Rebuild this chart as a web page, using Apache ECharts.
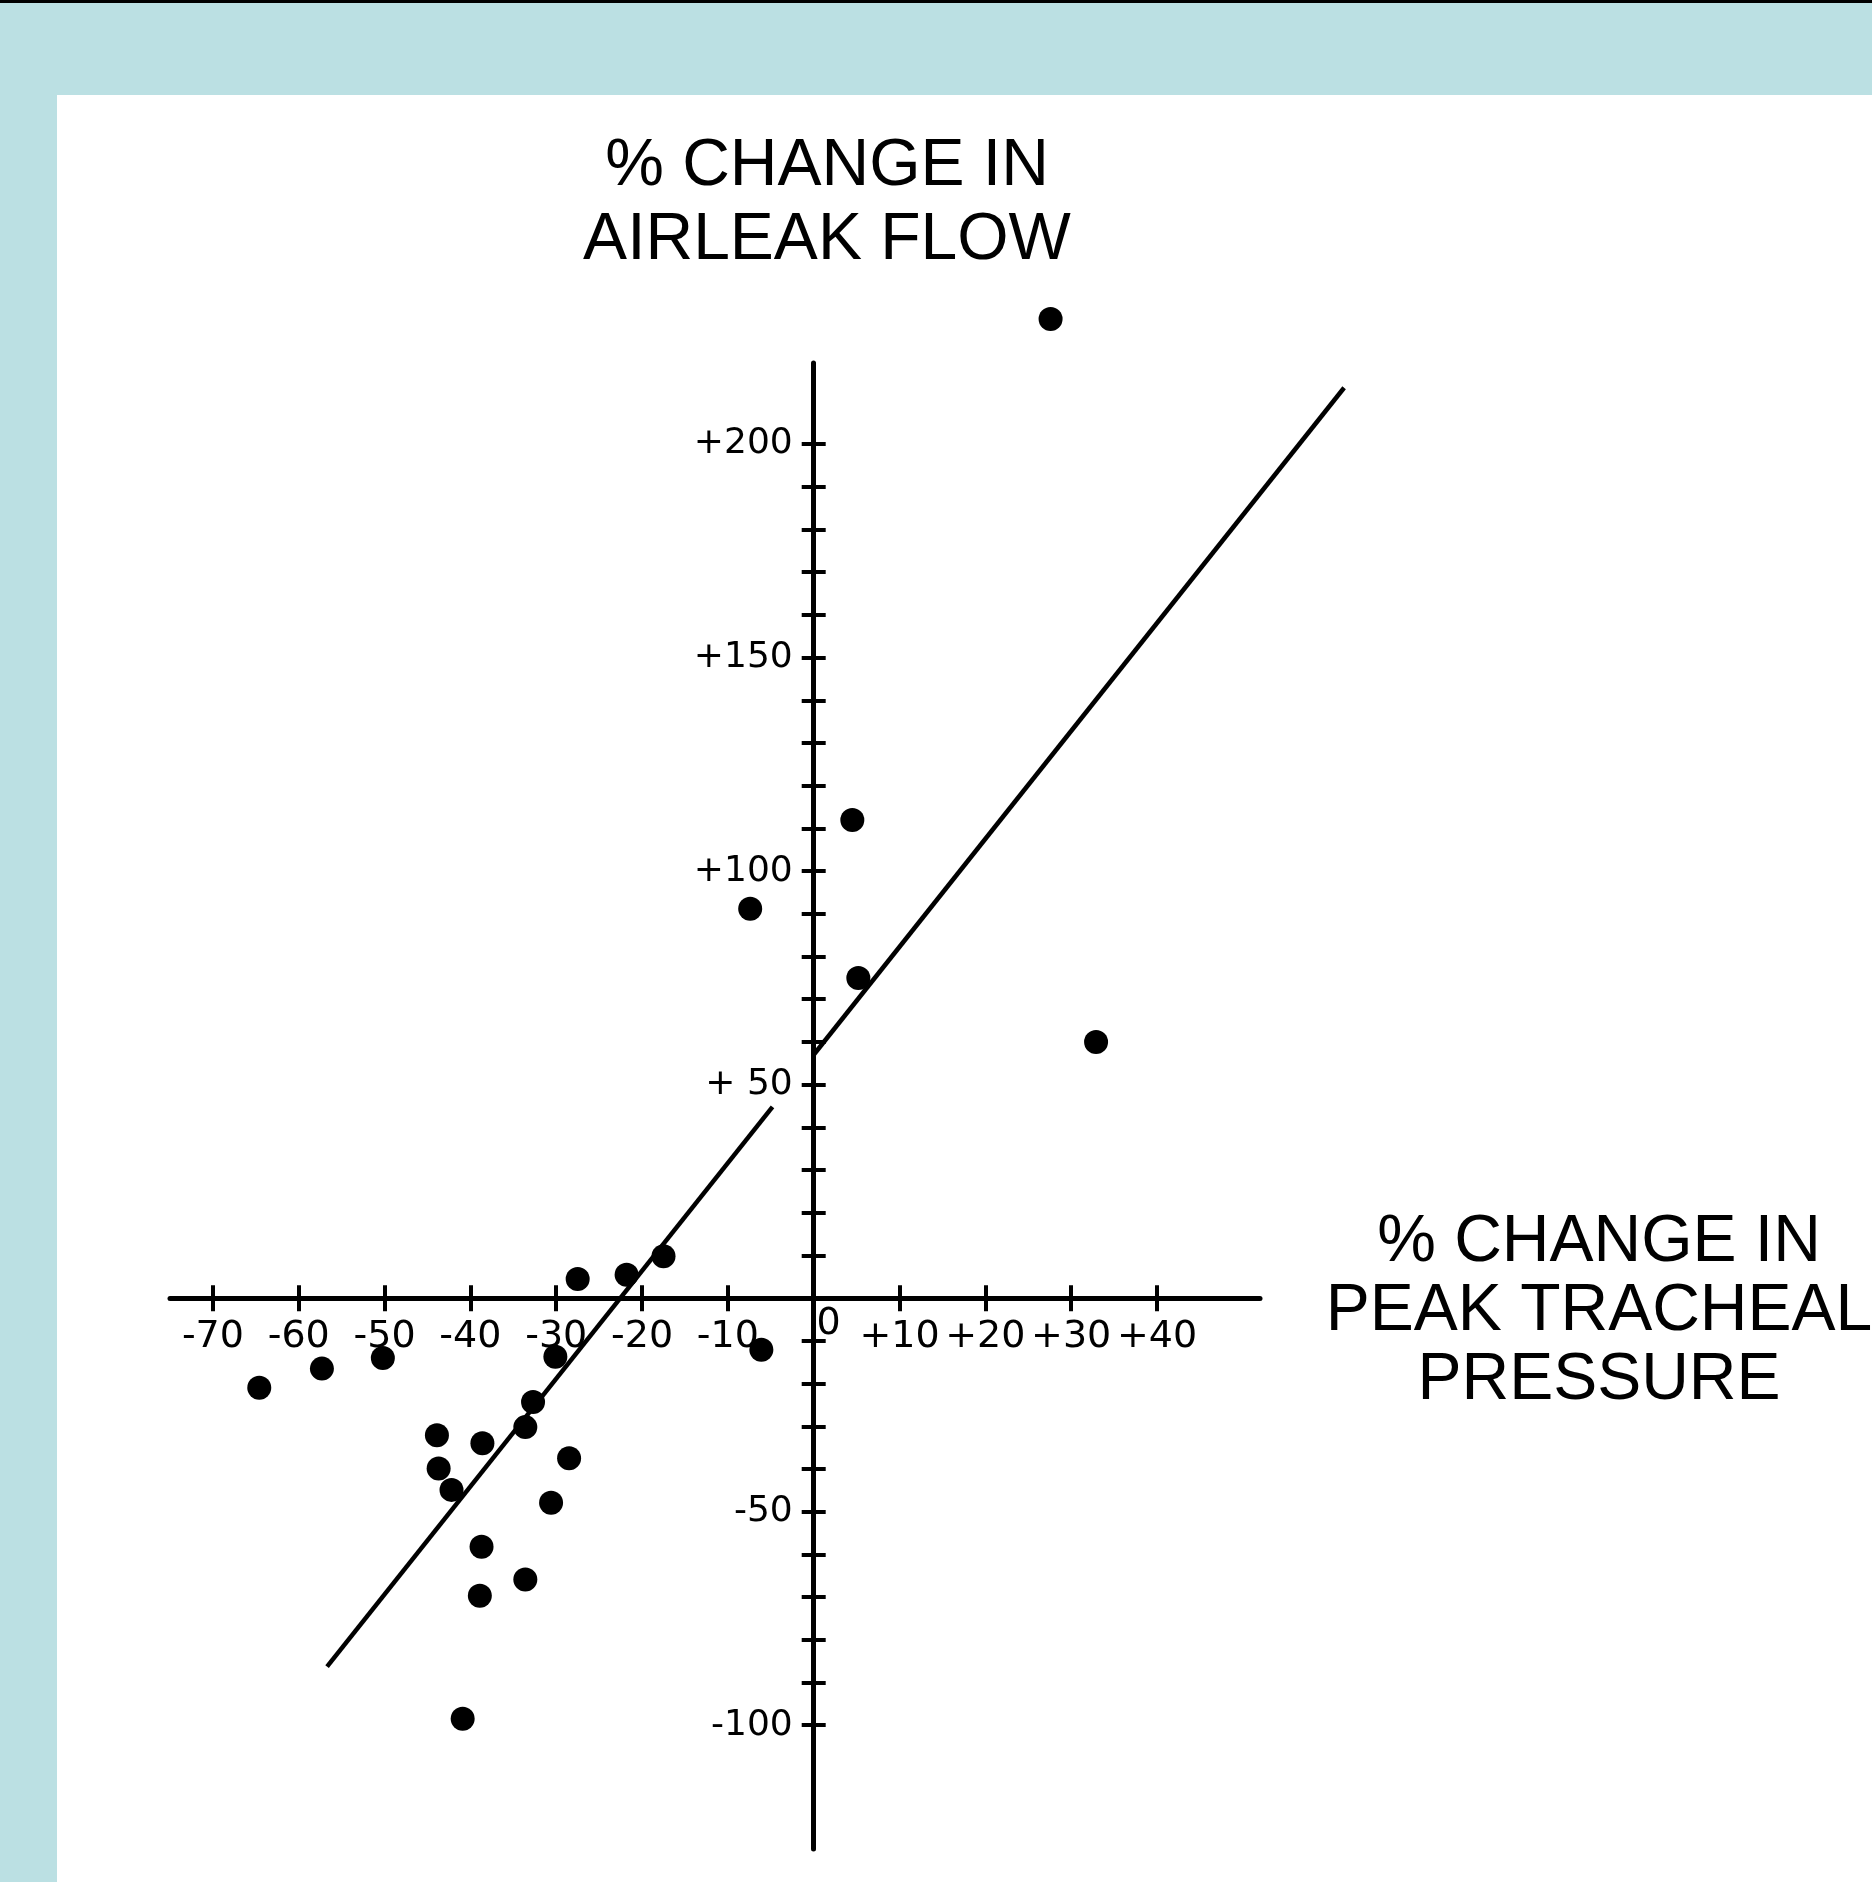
<!DOCTYPE html>
<html><head><meta charset="utf-8">
<script src="https://cdn.jsdelivr.net/npm/echarts@6/dist/echarts.min.js"></script>
<style>
html,body{margin:0;padding:0;}
body{width:1872px;height:1882px;background:#bbe0e3;position:relative;overflow:hidden;}
#topline{position:absolute;left:0;top:0;width:1872px;height:3px;background:#000;}
#chart{position:absolute;left:57px;top:95px;width:1815px;height:1787px;background:#fff;}
</style></head><body><div id="topline"></div><div id="chart"></div>
<script>
// % change in peak tracheal pressure (x) and % change in airleak flow (y)
const pressureChange = [27.6, 4.5, -7.4, 5.2, 32.9, -17.5, -21.8, -27.5, -64.6, -57.3, -50.2, -30.1, -6.1,
  -32.7, -33.6, -43.9, -38.6, -28.5, -43.7, -42.2, -30.6, -38.7, -33.6, -38.9, -40.9];
const airleakChange = [229.3, 112.0, 91.2, 75.0, 60.0, 9.8, 5.5, 4.5, -21.0, -16.5, -14.0, -13.7, -12.1,
  -24.3, -30.2, -32.1, -34.0, -37.5, -39.9, -44.9, -47.9, -58.2, -65.9, -69.7, -98.5];
// regression line, drawn in two pieces (break near the y axis)
const fitLowerX = [-56.7, -4.8];
const fitLowerY = [-86.3, 44.8];
const fitUpperX = [0, 61.8];
const fitUpperY = [57.0, 213.2];
// axes
const xRange = [-75, 52];
const yRange = [-129, 219];
const xFitMax = 62;
const xTickValues = [-70, -60, -50, -40, -30, -20, -10, 10, 20, 30, 40];
const yTickValues = [-100, -90, -80, -70, -60, -50, -40, -30, -20, -10, 10, 20, 30, 40, 50, 60, 70, 80, 90,
  100, 110, 120, 130, 140, 150, 160, 170, 180, 190, 200];
const yLabelValues = [-100, -50, 50, 100, 150, 200];
const yLabelTexts = ['-100', '-50', '+ 50', '+100', '+150', '+200'];
const xZeroLabel = '0';
const yTitle = '% CHANGE IN\nAIRLEAK FLOW';
const xTitle = '% CHANGE IN\nPEAK TRACHEAL\nPRESSURE';

const chart = echarts.init(document.getElementById('chart'), null, {renderer: 'canvas'});
const labelFont = 'DejaVu Sans';
const black = '#000';

const G = {left: 113, top: 268, width: 1090, height: 1486};
// axes cross at zero: shift each axis inward from its grid edge to the other axis' zero
const yAxisOffset = -((0 - xRange[0]) / (xRange[1] - xRange[0])) * G.width;
const xAxisOffset = -((0 - yRange[0]) / (yRange[1] - yRange[0])) * G.height;
const fitGridWidth = G.width * (xFitMax - xRange[0]) / (xRange[1] - xRange[0]);

function xAxisBase(extra) {
  return Object.assign({
    type: 'value', min: xRange[0], max: xRange[1], position: 'bottom', offset: xAxisOffset,
    splitLine: {show: false},
    axisLine: {show: false, onZero: false},
    axisTick: {show: false},
    axisLabel: {show: false}
  }, extra);
}
function yAxisBase(extra) {
  return Object.assign({
    type: 'value', min: yRange[0], max: yRange[1], position: 'left', offset: yAxisOffset,
    splitLine: {show: false},
    axisLine: {show: false, onZero: false},
    axisTick: {show: false},
    axisLabel: {show: false}
  }, extra);
}

const option = {
  animation: false,
  backgroundColor: '#fff',
  grid: [
    Object.assign({containLabel: false}, G),
    {left: G.left, top: G.top, width: fitGridWidth, height: G.height, containLabel: false}
  ],
  xAxis: [
    xAxisBase({
      axisLine: {show: true, onZero: false, lineStyle: {color: black, width: 5}},
      axisTick: {show: true, customValues: xTickValues, length: 13, lineStyle: {color: black, width: 4}},
      axisLabel: {show: true, customValues: xTickValues, margin: 20, color: black,
        fontFamily: labelFont, fontSize: 38,
        formatter: v => (v > 0 ? '+' + v : String(v))}
    }),
    xAxisBase({
      axisTick: {show: true, inside: true, customValues: xTickValues, length: 13, lineStyle: {color: black, width: 4}}
    }),
    xAxisBase({
      axisLabel: {show: true, customValues: [0], margin: 7, color: black, fontFamily: labelFont, fontSize: 38,
        formatter: () => '{z|' + xZeroLabel + '}',
        rich: {z: {fontFamily: labelFont, fontSize: 38, color: black, padding: [0, 0, 0, 30]}}}
    }),
    {type: 'value', gridIndex: 1, min: xRange[0], max: xFitMax, show: false, splitLine: {show: false}}
  ],
  yAxis: [
    yAxisBase({
      axisLine: {show: true, onZero: false, lineStyle: {color: black, width: 5}},
      axisTick: {show: true, customValues: yTickValues, length: 12, lineStyle: {color: black, width: 4}},
      axisLabel: {show: true, customValues: yLabelValues, margin: 21, color: black,
        fontFamily: labelFont, fontSize: 36,
        formatter: v => yLabelTexts[yLabelValues.indexOf(v)]}
    }),
    yAxisBase({
      axisTick: {show: true, inside: true, customValues: yTickValues, length: 12, lineStyle: {color: black, width: 4}}
    }),
    {type: 'value', gridIndex: 1, min: yRange[0], max: yRange[1], show: false, splitLine: {show: false}}
  ],
  graphic: [
    {type: 'text', x: 770, y: 109, style: {text: yTitle, fontSize: 66, fontFamily: 'Liberation Sans',
      fill: black, align: 'center', verticalAlign: 'middle', lineHeight: 74}},
    {type: 'text', x: 1542, y: 1217, style: {text: xTitle, fontSize: 66, fontFamily: 'Liberation Sans',
      fill: black, align: 'center', verticalAlign: 'middle', lineHeight: 69}}
  ],
  series: [
    {type: 'line', xAxisIndex: 3, yAxisIndex: 2, clip: false, symbol: 'none', silent: true,
      lineStyle: {color: black, width: 4.5},
      data: fitLowerX.map((x, i) => [x, fitLowerY[i]])},
    {type: 'line', xAxisIndex: 3, yAxisIndex: 2, clip: false, symbol: 'none', silent: true,
      lineStyle: {color: black, width: 4.5},
      data: fitUpperX.map((x, i) => [x, fitUpperY[i]])},
    {type: 'scatter', xAxisIndex: 0, yAxisIndex: 0, clip: false, symbol: 'circle', symbolSize: 24,
      itemStyle: {color: black, opacity: 1},
      data: pressureChange.map((x, i) => [x, airleakChange[i]])}
  ]
};
chart.setOption(option);
</script></body></html>
